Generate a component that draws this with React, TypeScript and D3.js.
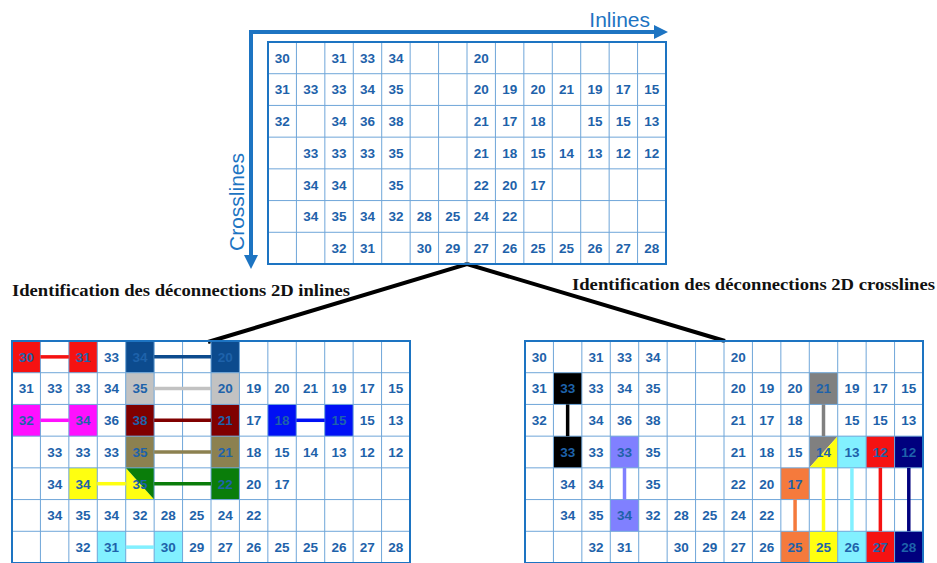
import React, { useEffect, useRef } from 'react';
import * as d3 from 'd3';

const WIDTH = 937;
const HEIGHT = 563;

// picked values per cell, one array per crossline (null = no pick)
const row0 = [30, null, 31, 33, 34, null, null, 20, null, null, null, null, null, null];
const row1 = [31, 33, 33, 34, 35, null, null, 20, 19, 20, 21, 19, 17, 15];
const row2 = [32, null, 34, 36, 38, null, null, 21, 17, 18, null, 15, 15, 13];
const row3 = [null, 33, 33, 33, 35, null, null, 21, 18, 15, 14, 13, 12, 12];
const row4 = [null, 34, 34, null, 35, null, null, 22, 20, 17, null, null, null, null];
const row5 = [null, 34, 35, 34, 32, 28, 25, 24, 22, null, null, null, null, null];
const row6 = [null, null, 32, 31, null, 30, 29, 27, 26, 25, 25, 26, 27, 28];
const rows = [row0, row1, row2, row3, row4, row5, row6];

// 2D inline disconnections: along a row, between two columns
const inlineLinks = [
  { line: 0, from: 0, to: 2 },
  { line: 0, from: 4, to: 7 },
  { line: 1, from: 4, to: 7 },
  { line: 2, from: 0, to: 2 },
  { line: 2, from: 4, to: 7 },
  { line: 2, from: 9, to: 11 },
  { line: 3, from: 4, to: 7 },
  { line: 4, from: 2, to: 4 },
  { line: 4, from: 4, to: 7 },
  { line: 6, from: 3, to: 5 },
];
const inlineColors = ['#f51212', '#0c4b8e', '#c2c2c2', '#ff10ff', '#800000', '#0010f5', '#8c8150', '#ffff10', '#0a7d0a', '#82f0ff'];

// 2D crossline disconnections: along a column, between two rows
const crossLinks = [
  { line: 1, from: 1, to: 3 },
  { line: 3, from: 3, to: 5 },
  { line: 10, from: 1, to: 3 },
  { line: 10, from: 3, to: 6 },
  { line: 9, from: 4, to: 6 },
  { line: 11, from: 3, to: 6 },
  { line: 12, from: 3, to: 6 },
  { line: 13, from: 3, to: 6 },
];
const crossColors = ['#000000', '#8080ff', '#808080', '#ffff10', '#f57a3c', '#82f0ff', '#f51212', '#00007e'];

const BLUE = '#1d74c2';
const NUM_COLOR = '#1e62aa';

type Link = { line: number; from: number; to: number };

const drawGrid = (root, x0, y0, links: Link[] | null, colors: string[], dir: 'inline' | 'cross') => {
  const x = d3.scaleBand<number>().domain(d3.range(14)).range([x0, x0 + 398]);
  const y = d3.scaleBand<number>().domain(d3.range(7)).range([y0, y0 + 222]);
  const bw = x.bandwidth();
  const bh = y.bandwidth();
  const g = root.append('g');

  // colours per cell: where a link ends and where a link starts
  const cells = new Map<string, { end?: string; start?: string }>();
  (links || []).forEach((l, i) => {
    const a = dir === 'inline' ? [l.line, l.from] : [l.from, l.line];
    const b = dir === 'inline' ? [l.line, l.to] : [l.to, l.line];
    const ka = a.join('-');
    const kb = b.join('-');
    cells.set(ka, { ...(cells.get(ka) || {}), start: colors[i] });
    cells.set(kb, { ...(cells.get(kb) || {}), end: colors[i] });
  });

  cells.forEach((c, key) => {
    const [r, col] = key.split('-').map(Number);
    const L = x(col)!, R = L + bw, T = y(r)!, B = T + bh;
    if (c.start && c.end && c.start !== c.end) {
      let endTri, startTri;
      if (dir === 'inline') {
        endTri = [[L, T], [L, B], [R, B]];
        startTri = [[L, T], [R, T], [R, B]];
      } else {
        endTri = [[L, T], [R, T], [L, B]];
        startTri = [[R, T], [R, B], [L, B]];
      }
      g.append('polygon').attr('points', endTri.join(' ')).attr('fill', c.end);
      g.append('polygon').attr('points', startTri.join(' ')).attr('fill', c.start);
    } else {
      g.append('rect').attr('x', L).attr('y', T).attr('width', bw).attr('height', bh)
        .attr('fill', c.start || c.end);
    }
  });

  // inner grid lines
  g.append('g').selectAll('line.v').data(d3.range(1, 14)).enter().append('line')
    .attr('x1', d => x0 + d * bw).attr('x2', d => x0 + d * bw)
    .attr('y1', y0).attr('y2', y0 + 222)
    .attr('stroke', '#6fa6d9').attr('stroke-width', 1);
  g.append('g').selectAll('line.h').data(d3.range(1, 7)).enter().append('line')
    .attr('x1', x0).attr('x2', x0 + 398)
    .attr('y1', d => y0 + d * bh).attr('y2', d => y0 + d * bh)
    .attr('stroke', '#6fa6d9').attr('stroke-width', 1);

  // connecting lines
  (links || []).forEach((l, i) => {
    const ln = g.append('line').attr('stroke', colors[i]).attr('stroke-width', 3.5);
    if (dir === 'inline') {
      const cy = y(l.line)! + bh / 2;
      ln.attr('x1', x(l.from)! + bw).attr('x2', x(l.to)!).attr('y1', cy).attr('y2', cy);
    } else {
      const cx = x(l.line)! + bw / 2;
      ln.attr('y1', y(l.from)! + bh).attr('y2', y(l.to)!).attr('x1', cx).attr('x2', cx);
    }
  });

  g.append('rect').attr('x', x0).attr('y', y0).attr('width', 398).attr('height', 222)
    .attr('fill', 'none').attr('stroke', BLUE).attr('stroke-width', 2);

  rows.forEach((row, r) => {
    row.forEach((v, c) => {
      if (v == null) return;
      g.append('text')
        .attr('x', x(c)! + bw / 2)
        .attr('y', y(r)! + bh / 2)
        .attr('dy', '0.36em')
        .attr('text-anchor', 'middle')
        .style('font-family', '"Liberation Sans", Arial, sans-serif')
        .style('font-weight', 'bold')
        .style('font-size', '13.5px')
        .attr('fill', NUM_COLOR)
        .text(v);
    });
  });
};

const App = () => {
  const ref = useRef<SVGSVGElement>(null);

  useEffect(() => {
    const svg = d3.select(ref.current);
    svg.selectAll('*').remove();

    svg.append('rect').attr('width', WIDTH).attr('height', HEIGHT).attr('fill', '#fff');

    // zoom lines from the top grid down to both detail grids
    svg.append('path')
      .attr('d', 'M208,342 L467,264 L725,341')
      .attr('fill', 'none').attr('stroke', '#000').attr('stroke-width', 4)
      .attr('stroke-linejoin', 'miter');

    drawGrid(svg, 268, 42, null, [], 'inline');
    drawGrid(svg, 12, 341, inlineLinks, inlineColors, 'inline');
    drawGrid(svg, 525, 341, crossLinks, crossColors, 'cross');

    // axes arrows
    svg.append('path').attr('d', 'M249,32 H656').attr('stroke', BLUE).attr('stroke-width', 4).attr('fill', 'none');
    svg.append('path').attr('d', 'M654,25 L668,32 L654,39 Z').attr('fill', BLUE);
    svg.append('path').attr('d', 'M251,30 V257').attr('stroke', BLUE).attr('stroke-width', 4).attr('fill', 'none');
    svg.append('path').attr('d', 'M244,255 L251,269 L258,255 Z').attr('fill', BLUE);

    svg.append('text').attr('x', 650).attr('y', 27).attr('text-anchor', 'end')
      .style('font-family', '"Liberation Sans", Arial, sans-serif').style('font-size', '21px')
      .attr('fill', BLUE).text('Inlines');
    svg.append('text').attr('transform', 'translate(244,202) rotate(-90)').attr('text-anchor', 'middle')
      .style('font-family', '"Liberation Sans", Arial, sans-serif').style('font-size', '21px')
      .attr('fill', BLUE).text('Crosslines');

    svg.append('text').attr('x', 12).attr('y', 296).attr('textLength', 338).attr('lengthAdjust', 'spacingAndGlyphs')
      .style('font-family', '"Liberation Serif", "DejaVu Serif", serif').style('font-size', '16px').style('font-weight', 'bold')
      .attr('fill', '#111').text('Identification des déconnections 2D inlines');
    svg.append('text').attr('x', 572).attr('y', 290).attr('textLength', 363).attr('lengthAdjust', 'spacingAndGlyphs')
      .style('font-family', '"Liberation Serif", "DejaVu Serif", serif').style('font-size', '16px').style('font-weight', 'bold')
      .attr('fill', '#111').text('Identification des déconnections 2D crosslines');
  }, []);

  return (
    <svg ref={ref} width={WIDTH} height={HEIGHT} style={{ position: 'absolute', left: 0, top: 0 }} />
  );
};

export default App;
